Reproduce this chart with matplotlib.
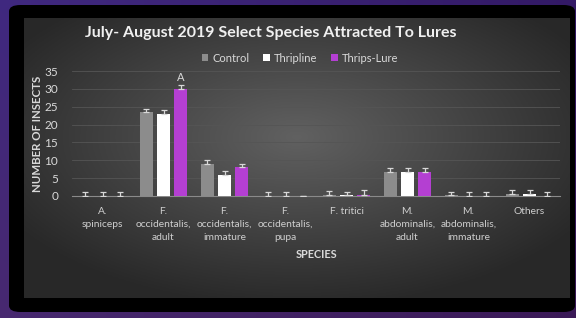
import numpy as np
import matplotlib
matplotlib.use("Agg")
import matplotlib.pyplot as plt
from matplotlib.patches import FancyBboxPatch

plt.rcParams['font.family'] = ['Lato', 'DejaVu Sans']

categories = ["A.\nspiniceps", "F.\noccidentalis,\nadult", "F.\noccidentalis,\nimmature",
              "F.\noccidentalis,\npupa", "F. tritici", "M.\nabdominalis,\nadult",
              "M.\nabdominalis,\nimmature", "Others"]
series_names = ["Control", "Thripline", "Thrips-Lure"]
control = [0, 23.5, 9.0, 0, 0.3, 6.7, 0.2, 0.6]
thripline = [0, 23.0, 6.0, 0, 0.2, 6.7, 0.1, 0.7]
thrips_lure = [0, 30.0, 8.0, 0, 0.4, 6.7, 0, 0]
control_err = [1.0, 1.0, 1.0, 1.0, 1.2, 1.2, 1.0, 1.0]
thripline_err = [1.0, 1.0, 1.0, 1.0, 0.8, 1.2, 0.9, 0.9]
thrips_lure_err = [1.0, 1.0, 1.0, 0.0, 1.2, 1.2, 1.0, 1.0]
yticks = [0, 5, 10, 15, 20, 25, 30, 35]
annotation = "A"

colors = ["#8c8c8c", "#ffffff", "#b43fd2"]
txt = "#d9d9d9"

fig = plt.figure(figsize=(5.76, 3.18), dpi=100)

# purple background
bg = fig.add_axes([0, 0, 1, 1], zorder=0)
bg.set_axis_off()
xx, yy = np.meshgrid(np.linspace(0, 1, 200), np.linspace(0, 1, 120))
r = 0.25 - 0.05 * xx + 0.03 * yy
g = 0.16 - 0.06 * xx
b = 0.50 - 0.1 * xx - 0.06 * yy
img = np.dstack([r, g, b]).clip(0, 1)
bg.imshow(img, extent=[0, 1, 0, 1], aspect='auto', origin='upper')
bg.set_xlim(0, 1); bg.set_ylim(0, 1)
frame = FancyBboxPatch((9/576, 1 - 312/318), 566/576, 307/318,
                       boxstyle="round,pad=0,rounding_size=0.02",
                       transform=bg.transAxes, facecolor="black", edgecolor="none")
bg.add_patch(frame)

# gray gradient chart area
ca = fig.add_axes([24/576, 1 - 298/318, 546/576, 280/318], zorder=1)
ca.set_axis_off()
gx, gy = np.meshgrid(np.linspace(-1, 1, 300), np.linspace(-1, 1, 160))
dist = np.sqrt(((gx - 0.0) / 1.1) ** 2 + ((gy + 0.15) / 1.1) ** 2)
v = (0.38 - 0.2 * dist).clip(0.16, 0.4)
ca.imshow(np.dstack([v, v, v]), extent=[0, 1, 0, 1], aspect='auto', origin='upper')
ca.set_xlim(0, 1); ca.set_ylim(0, 1)

# main plot
ax = fig.add_axes([72/576, 1 - 196/318, 488/576, 125/318], zorder=2)
ax.patch.set_alpha(0)
x = np.arange(len(categories))
off = 0.279
w = 0.213
data = [control, thripline, thrips_lure]
errs = [control_err, thripline_err, thrips_lure_err]
for i, (vals, e) in enumerate(zip(data, errs)):
    pos = x + (i - 1) * off
    ax.bar(pos, vals, width=w, color=colors[i], label=series_names[i], zorder=3)
    ax.errorbar(pos, vals, yerr=[np.zeros(len(e)), e], fmt='none', ecolor="#d8d8d8",
                elinewidth=0.9, capsize=2.2, capthick=0.9, zorder=4)

ax.text(x[1] + off, thrips_lure[1] + 1.6, annotation, ha='center', va='bottom',
        color=txt, fontsize=8)

ax.set_xlim(-0.5, len(categories) - 0.5)
ax.set_ylim(0, 35)
ax.set_yticks(yticks)
ax.yaxis.grid(True, color="#555555", linewidth=0.6, zorder=0)
ax.set_axisbelow(True)
for s in ["left", "right", "top"]:
    ax.spines[s].set_visible(False)
ax.spines["bottom"].set_color("#8a8a8a")
ax.spines["bottom"].set_linewidth(0.8)
ax.tick_params(axis='y', length=0, colors=txt, labelsize=8.5, pad=10)
ax.tick_params(axis='x', length=0, colors="#cfcfcf", labelsize=7.4, pad=8)
ax.set_xticks(x)
ax.set_xticklabels(categories, linespacing=1.55, va='top')
ax.set_xlabel("SPECIES", color=txt, fontsize=7.8, fontweight='bold')
ax.xaxis.set_label_coords(0.5, -0.464)
ax.xaxis.label.set_verticalalignment('center')
ax.set_ylabel("NUMBER OF INSECTS", color=txt, fontsize=8.3, fontweight='bold')
ax.yaxis.set_label_coords(-0.0717, 0.5)
ax.yaxis.label.set_verticalalignment('center')

fig.text(0.47, 1 - 33/318, "July- August 2019 Select Species Attracted To Lures",
         ha='center', va='center', color="#f0f0f0", fontsize=11.5, fontweight='bold')
leg = ax.legend(loc='center', bbox_to_anchor=(300/576, 1 - 58/318), bbox_transform=fig.transFigure,
                ncol=3, frameon=False, fontsize=8, handlelength=0.6, handleheight=0.6,
                handletextpad=0.4, columnspacing=1.2)
for t in leg.get_texts():
    t.set_color(txt)

fig.savefig("out.png", dpi=100)
